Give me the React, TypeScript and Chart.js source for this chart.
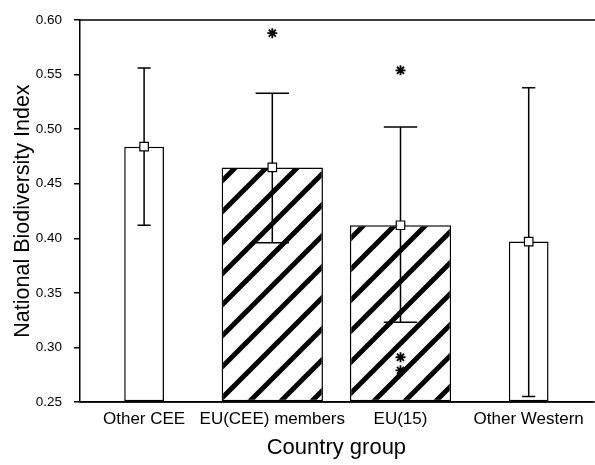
import React, { useEffect, useRef } from 'react';
import { Chart, registerables } from 'chart.js';

Chart.register(...registerables);

const categories = ['Other CEE', 'EU(CEE) members', 'EU(15)', 'Other Western'];
const meanValues = [0.484, 0.465, 0.412, 0.397];
const upperValues = [0.556, 0.533, 0.502, 0.538];
const lowerValues = [0.412, 0.396, 0.323, 0.255];
const hatchedFlags = [false, true, true, false];
const outlierCategories = ['EU(CEE) members', 'EU(15)', 'EU(15)', 'EU(15)'];
const outlierValues = [0.588, 0.554, 0.291, 0.279];
const yTickValues = [0.25, 0.3, 0.35, 0.4, 0.45, 0.5, 0.55, 0.6];
const yTickLabels = ['0.25', '0.30', '0.35', '0.40', '0.45', '0.50', '0.55', '0.60'];

const FONT = '"Liberation Sans", Arial, sans-serif';

function makeHatch(): CanvasPattern | string {
  const s = 31;
  const c = document.createElement('canvas');
  c.width = s;
  c.height = s;
  const g = c.getContext('2d');
  if (!g) return '#fff';
  g.fillStyle = '#fff';
  g.fillRect(0, 0, s, s);
  g.strokeStyle = '#000';
  g.lineWidth = 5;
  g.lineCap = 'butt';
  for (const off of [-s, 0, s]) {
    g.beginPath();
    g.moveTo(off - 2, s + 2);
    g.lineTo(off + s + 2, -2);
    g.stroke();
  }
  const p = g.createPattern(c, 'repeat');
  return p || '#fff';
}

const errorBarPlugin = {
  id: 'errorBars',
  beforeDatasetDraw(chart: any, args: any) {
    if (args.index !== 2) return;
    const xs = chart.scales.x;
    const ys = chart.scales.y;
    const ctx = chart.ctx;
    ctx.save();
    ctx.strokeStyle = '#000';
    ctx.lineWidth = 1.5;
    categories.forEach((_c, i) => {
      const px = xs.getPixelForValue(i);
      const meta = chart.getDatasetMeta(hatchedFlags[i] ? 1 : 0);
      const bar = meta.data[i];
      const bw = bar ? bar.width : 40;
      const cap = (bw * 0.33) / 2;
      const yt = ys.getPixelForValue(upperValues[i]);
      const yb = ys.getPixelForValue(lowerValues[i]);
      ctx.beginPath();
      ctx.moveTo(px, yt);
      ctx.lineTo(px, yb);
      ctx.moveTo(px - cap, yt);
      ctx.lineTo(px + cap, yt);
      ctx.moveTo(px - cap, yb);
      ctx.lineTo(px + cap, yb);
      ctx.stroke();
    });
    ctx.restore();
  },
  afterDraw(chart: any) {
    const { ctx, chartArea } = chart;
    ctx.save();
    ctx.strokeStyle = '#000';
    ctx.lineWidth = 1.5;
    ctx.beginPath();
    ctx.moveTo(chartArea.left, chartArea.top);
    ctx.lineTo(chartArea.right + 10, chartArea.top);
    ctx.moveTo(chartArea.left, chartArea.bottom);
    ctx.lineTo(chartArea.right + 10, chartArea.bottom);
    ctx.stroke();
    ctx.restore();
  },
};

export default function App() {
  const ref = useRef<HTMLCanvasElement | null>(null);

  useEffect(() => {
    if (!ref.current) return;
    const hatch = makeHatch();
    const openData = meanValues.map((v, i) => (hatchedFlags[i] ? null : v));
    const hatchedData = meanValues.map((v, i) => (hatchedFlags[i] ? v : null));
    const outlierData = outlierValues.map((v, i) => ({ x: outlierCategories[i], y: v }));

    const chart = new Chart(ref.current, {
      type: 'bar',
      data: {
        labels: categories,
        datasets: [
          {
            type: 'bar',
            data: openData,
            backgroundColor: '#fff',
            borderColor: '#000',
            borderWidth: 1.5,
            borderSkipped: false,
            grouped: false,
            base: 0.25,
            barPercentage: 0.31,
            categoryPercentage: 1,
            order: 3,
          } as any,
          {
            type: 'bar',
            data: hatchedData,
            backgroundColor: hatch as any,
            borderColor: '#000',
            borderWidth: 1.5,
            borderSkipped: false,
            grouped: false,
            base: 0.25,
            barPercentage: 0.79,
            categoryPercentage: 1,
            order: 3,
          } as any,
          {
            type: 'line',
            data: meanValues,
            showLine: false,
            pointStyle: 'rect',
            pointRadius: 6,
            pointBackgroundColor: '#fff',
            pointBorderColor: '#000',
            pointBorderWidth: 1.2,
            order: 0,
          } as any,
          {
            type: 'line',
            data: outlierData as any,
            showLine: false,
            pointStyle: 'star',
            pointRadius: 5,
            pointBorderColor: '#000',
            pointBackgroundColor: '#000',
            pointBorderWidth: 1.8,
            order: 1,
          } as any,
        ],
      },
      options: {
        animation: false,
        responsive: false,
        events: [],
        devicePixelRatio: 1,
        layout: { padding: { left: 0, top: 16, right: 4, bottom: 0 } },
        plugins: {
          legend: { display: false },
          tooltip: { enabled: false },
        },
        scales: {
          x: {
            type: 'category',
            offset: true,
            grid: { display: false, drawTicks: false },
            border: { display: true, color: '#000', width: 1.5 },
            ticks: {
              color: '#000',
              padding: 7,
              maxRotation: 0,
              autoSkip: false,
              font: { family: FONT, size: 17 },
            },
            title: {
              display: true,
              text: 'Country group',
              color: '#000',
              font: { family: FONT, size: 22 },
              padding: { top: 0, bottom: 4 },
            },
            afterFit: (s: any) => {
              s.height = 63;
            },
          },
          y: {
            type: 'linear',
            min: 0.25,
            max: 0.6,
            grid: {
              display: true,
              drawOnChartArea: false,
              drawTicks: true,
              tickLength: 6,
              color: '#000',
              lineWidth: 1.5,
            },
            border: { display: true, color: '#000', width: 1.5 },
            afterBuildTicks: (s: any) => {
              s.ticks = yTickValues.map((v) => ({ value: v }));
            },
            ticks: {
              color: '#000',
              padding: 12,
              font: { family: FONT, size: 13.5 },
              callback: (_v: any, idx: number) => yTickLabels[idx],
            },
            title: {
              display: true,
              text: 'National Biodiversity Index',
              color: '#000',
              font: { family: FONT, size: 21.5 },
              padding: { top: 10, bottom: 0 },
            },
            afterFit: (s: any) => {
              s.width = 80;
            },
          },
        },
      },
      plugins: [errorBarPlugin],
    });
    return () => chart.destroy();
  }, []);

  return (
    <div
      style={{
        position: 'fixed',
        left: 0,
        top: 0,
        width: 595,
        height: 465,
        overflow: 'hidden',
        background: '#fff',
      }}
    >
      <canvas ref={ref} width={600} height={465} style={{ width: 600, height: 465, display: 'block' }} />
    </div>
  );
}
